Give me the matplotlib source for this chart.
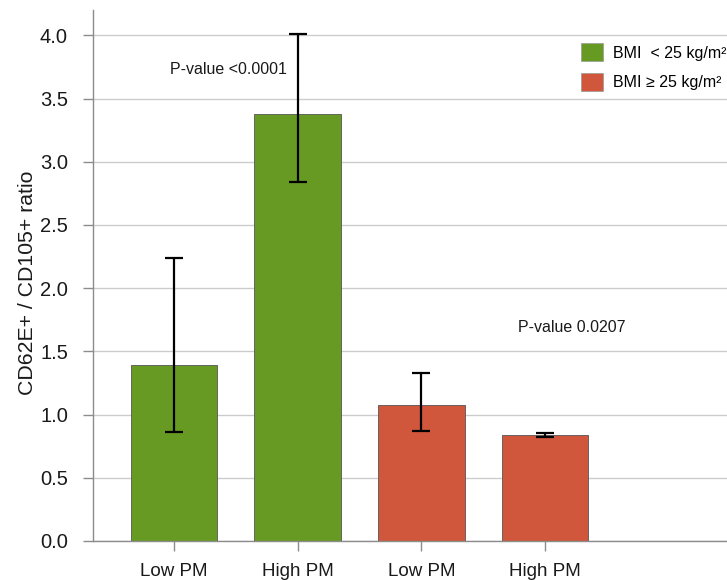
import numpy as np
import matplotlib
matplotlib.use('Agg')
import matplotlib.pyplot as plt
from matplotlib.patches import Patch

plt.rcParams['font.family'] = ['Liberation Sans', 'DejaVu Sans']

# data
groups = ['Low PM', 'High PM', 'Low PM', 'High PM']
ratio = [1.39, 3.38, 1.075, 0.84]
err_low = [0.86, 2.84, 0.87, 0.82]
err_high = [2.24, 4.01, 1.33, 0.855]
bmi = ['lean', 'lean', 'over', 'over']
legend_labels = ['BMI  < 25 kg/m\u00b2', 'BMI \u2265 25 kg/m\u00b2']
p_texts = ['P-value <0.0001', 'P-value 0.0207']
yticks = [0.0, 0.5, 1.0, 1.5, 2.0, 2.5, 3.0, 3.5, 4.0]

colours = {'lean': '#669a22', 'over': '#d0573b'}
axis_grey = '#8c8c8c'

fig = plt.figure(figsize=(7.27, 5.8), dpi=100)
ax = fig.add_axes([93/727, 1 - 541/580, 1 - 93/727, (541 - 10)/580])

x = np.arange(len(groups))
ratio = np.array(ratio)
yerr = [ratio - np.array(err_low), np.array(err_high) - ratio]

ax.bar(x, ratio, width=0.7, color=[colours[b] for b in bmi],
       edgecolor='#555555', linewidth=0.6, zorder=2)
ax.errorbar(x, ratio, yerr=yerr, fmt='none', ecolor='black',
            elinewidth=1.6, capsize=6.7, capthick=1.6, zorder=3)

ax.set_xlim(-0.655, 4.47)
ax.set_ylim(0, 4.2)
ax.set_yticks(yticks)
ax.set_yticklabels(['%.1f' % v for v in yticks])
ax.set_xticks(x)
ax.set_xticklabels(groups)

ax.yaxis.grid(True, color='#cccccc', linewidth=1.0, zorder=0)
ax.set_axisbelow(True)
for s in ['top', 'right']:
    ax.spines[s].set_visible(False)
for s in ['left', 'bottom']:
    ax.spines[s].set_color(axis_grey)
    ax.spines[s].set_linewidth(1.0)
ax.tick_params(axis='both', colors=axis_grey, labelcolor='#1a1a1a',
               length=7, width=1)
ax.tick_params(axis='y', labelsize=14.5, pad=11)
ax.tick_params(axis='x', labelsize=13.5, pad=9)

ax.set_ylabel('CD62E+ / CD105+ ratio', fontsize=15.3, color='#1a1a1a', labelpad=2)
ax.yaxis.label.set_y(0.487)

ax.text(-0.03, 3.73, p_texts[0], fontsize=11.5, va='center', ha='left', color='#1a1a1a')
ax.text(2.78, 1.69, p_texts[1], fontsize=11.5, va='center', ha='left', color='#1a1a1a')

handles = [Patch(facecolor=colours['lean'], edgecolor='#999999', linewidth=0.5),
           Patch(facecolor=colours['over'], edgecolor='#999999', linewidth=0.5)]
fig.legend(handles, legend_labels, loc='upper left',
           bbox_to_anchor=(581/727, 1 - 43/580), bbox_transform=fig.transFigure,
           frameon=False, fontsize=11.5, handlelength=1.4, handleheight=1.4,
           handletextpad=0.63, labelspacing=0.72, borderpad=0, borderaxespad=0)

plt.savefig('out.png', dpi=100)
